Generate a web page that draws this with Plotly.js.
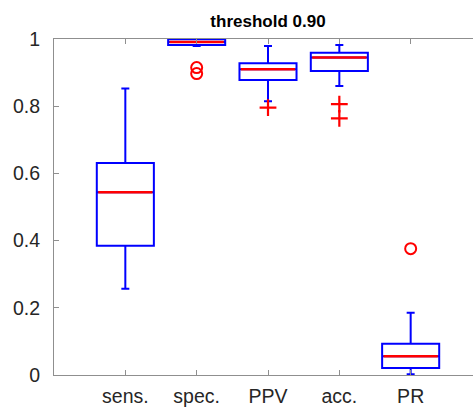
<!DOCTYPE html>
<html><head><meta charset="utf-8">
<script src="https://cdn.plot.ly/plotly-3.0.1.min.js"></script>
<style>html,body{margin:0;padding:0;overflow:hidden;background:#fff}#plot{width:490px;height:407px}</style>
</head><body><div id="plot"></div>
<script>
const categories = ["sens.", "spec.", "PPV", "acc.", "PR"];
const positions = [1, 2, 3, 4, 5];
const lowerWhisker = [0.257, 0.979, 0.815, 0.860, 0.002];
const q1Values = [0.385, 0.982, 0.878, 0.905, 0.021];
const medianValues = [0.544, 0.991, 0.910, 0.945, 0.056];
const q3Values = [0.631, 0.999, 0.928, 0.959, 0.093];
const upperWhisker = [0.853, 1.000, 0.979, 0.982, 0.185];
const circleOutliersX = [2, 2, 5];
const circleOutliersY = [0.915, 0.897, 0.376];
const crossOutliersX = [3, 4, 4];
const crossOutliersY = [0.796, 0.806, 0.764];
const yTicks = [0, 0.2, 0.4, 0.6, 0.8, 1];
const yTickLabels = ["0", "0.2", "0.4", "0.6", "0.8", "1"];

const boxW = 0.8;
const boxTrace = {
  type: 'box', x: positions, q1: q1Values, median: medianValues, q3: q3Values,
  lowerfence: lowerWhisker, upperfence: upperWhisker,
  width: boxW, whiskerwidth: 0.14,
  line: {color: 'rgb(0,0,255)', width: 2}, fillcolor: 'rgba(0,0,0,0)',
  boxpoints: false, hoverinfo: 'skip', showlegend: false
};
const mx = [], my = [];
positions.forEach((p, i) => { mx.push(p - boxW/2 + 0.02, p + boxW/2 - 0.02, null); my.push(medianValues[i], medianValues[i], null); });
const medianTrace = {type: 'scatter', mode: 'lines', x: mx, y: my, line: {color: 'rgb(255,0,0)', width: 2.6}, showlegend: false, hoverinfo: 'skip'};
const circTrace = {type: 'scatter', mode: 'markers', x: circleOutliersX, y: circleOutliersY,
  marker: {symbol: 'circle-open', size: 11, color: 'rgb(255,0,0)', line: {width: 2, color: 'rgb(255,0,0)'}}, showlegend: false};
const crossTrace = {type: 'scatter', mode: 'markers', x: crossOutliersX, y: crossOutliersY,
  marker: {symbol: 'cross-thin-open', size: 12, color: 'rgb(255,0,0)', line: {width: 2.2, color: 'rgb(255,0,0)'}}, showlegend: false};

const axisCol = '#8f8f8f';
const fam = 'Liberation Sans, Arial, sans-serif';
const layout = {
  width: 490, height: 407,
  margin: {l: 54, r: 8, t: 39, b: 32},
  paper_bgcolor: '#fff', plot_bgcolor: '#fff',
  title: {text: '<b>threshold 0.90</b>', x: 0.5, xref: 'paper', y: 1, yref: 'paper', yanchor: 'bottom', pad: {b: 12},
    font: {family: fam, size: 17, color: '#000'}},
  xaxis: {range: [0, 6], tickvals: positions, ticktext: categories, showgrid: false, zeroline: false,
    showline: true, linecolor: axisCol, linewidth: 1, mirror: 'ticks', ticks: 'inside', ticklen: 5, tickcolor: axisCol,
    ticklabelstandoff: 4,
    tickfont: {family: fam, size: 19.5, color: '#262626'}},
  yaxis: {range: [0, 1], tickvals: yTicks, ticktext: yTickLabels, showgrid: false, zeroline: false,
    showline: true, linecolor: axisCol, linewidth: 1, mirror: 'ticks', ticks: 'inside', ticklen: 5, tickcolor: axisCol,
    ticklabelstandoff: 9,
    tickfont: {family: fam, size: 19.5, color: '#262626'}},
  boxmode: 'overlay', showlegend: false
};
Plotly.newPlot('plot', [boxTrace, medianTrace, circTrace, crossTrace], layout, {staticPlot: true, displayModeBar: false});
</script></body></html>
